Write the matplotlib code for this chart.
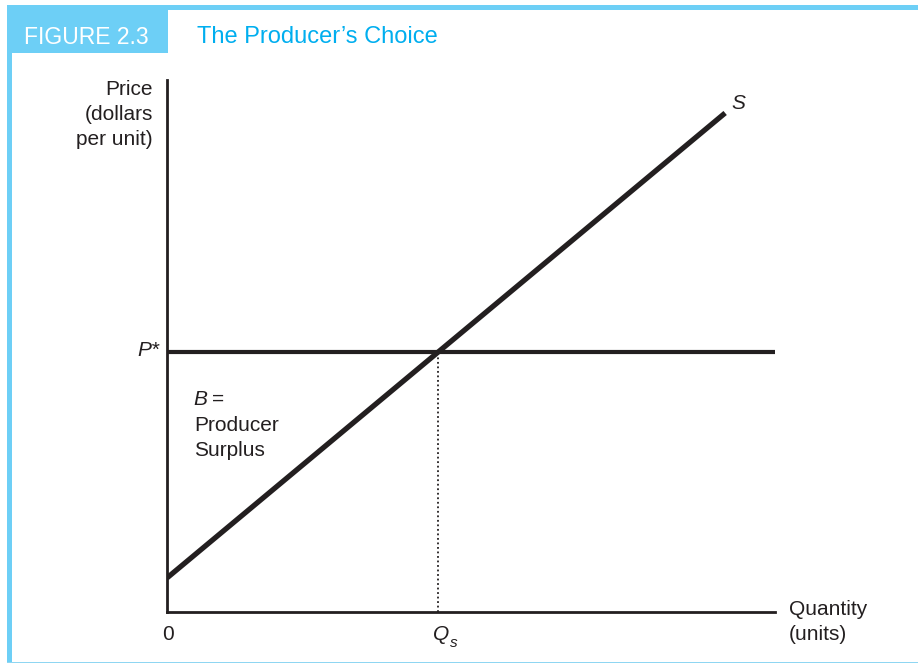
import matplotlib.pyplot as plt
from matplotlib.patches import Rectangle

# supply curve endpoints (quantity, price) and the market price
supply_q = [0.0, 9.18]
supply_p = [0.64, 9.38]
p_star = 4.89
q_s = 4.45

blue = '#6dcff6'
title_blue = '#00aeef'
ink = '#231f20'
W, H = 918, 664

plt.rcParams['font.family'] = ['Liberation Sans', 'DejaVu Sans']

fig = plt.figure(figsize=(W / 100, H / 100), dpi=100)


def px_rect(x0, y0, x1, y1, color):
    # rectangle given in pixel coords (origin top-left)
    fig.patches.append(Rectangle((x0 / W, 1 - y1 / H), (x1 - x0) / W, (y1 - y0) / H,
                                 transform=fig.transFigure, facecolor=color,
                                 edgecolor='none', zorder=0))


# frame
px_rect(7, 5, W, 10, blue)
px_rect(7, 5, 12, 663, blue)
px_rect(7, 661.5, W, 663, '#8fd6f2')
px_rect(7, 5, 168, 53, blue)

fig.text(86 / W, 1 - 37 / H, 'FIGURE 2.3', color='white', fontsize=16.5,
         ha='center', va='center')
fig.text(197 / W, 1 - 37 / H, 'The Producer\u2019s Choice', color=title_blue,
         fontsize=17, ha='left', va='center')

ax = fig.add_axes([167 / W, (H - 612) / H, 608 / W, 532 / H])
ax.set_xlim(0, 10)
ax.set_ylim(0, 10)
for side in ['top', 'right']:
    ax.spines[side].set_visible(False)
for side in ['left', 'bottom']:
    ax.spines[side].set_linewidth(2.0)
    ax.spines[side].set_color(ink)
ax.set_xticks([])
ax.set_yticks([])

ax.plot(supply_q, supply_p, color=ink, lw=3.8, solid_capstyle='butt')
ax.axhline(p_star, color=ink, lw=3.0)
ax.plot([q_s, q_s], [0, p_star], color=ink, lw=1.3, ls=(0, (1, 1.5)))

fs = 15
ls = 1.42
ax.text(-0.23, 9.35, 'Price\n(dollars\nper unit)', ha='right', va='center',
        fontsize=fs, linespacing=ls, color=ink)
ax.text(-0.12, p_star + 0.02, 'P*', ha='right', va='center', fontsize=fs,
        color=ink, fontstyle='italic')
ax.text(0.44, 4.0, 'B', ha='left', va='center', fontsize=fs, color=ink,
        fontstyle='italic')
ax.text(0.74, 4.0, '=', ha='left', va='center', fontsize=fs, color=ink)
ax.text(0.44, 3.27, 'Producer\nSurplus', ha='left', va='center',
        fontsize=fs, linespacing=ls, color=ink)
ax.text(0.02, -0.43, '0', ha='center', va='center', fontsize=fs, color=ink)
ax.text(q_s + 0.06, -0.43, 'Q', ha='center', va='center', fontsize=fs,
        color=ink, fontstyle='italic')
ax.text(q_s + 0.2, -0.59, 's', ha='left', va='center', fontsize=11,
        color=ink, fontstyle='italic')
ax.text(10.23, -0.19, 'Quantity\n(units)', ha='left', va='center', fontsize=fs,
        linespacing=ls, color=ink)
ax.text(supply_q[1] + 0.22, supply_p[1] + 0.17, 'S', ha='center', va='center',
        fontsize=fs, color=ink, fontstyle='italic')

fig.savefig('out.png', dpi=100)
